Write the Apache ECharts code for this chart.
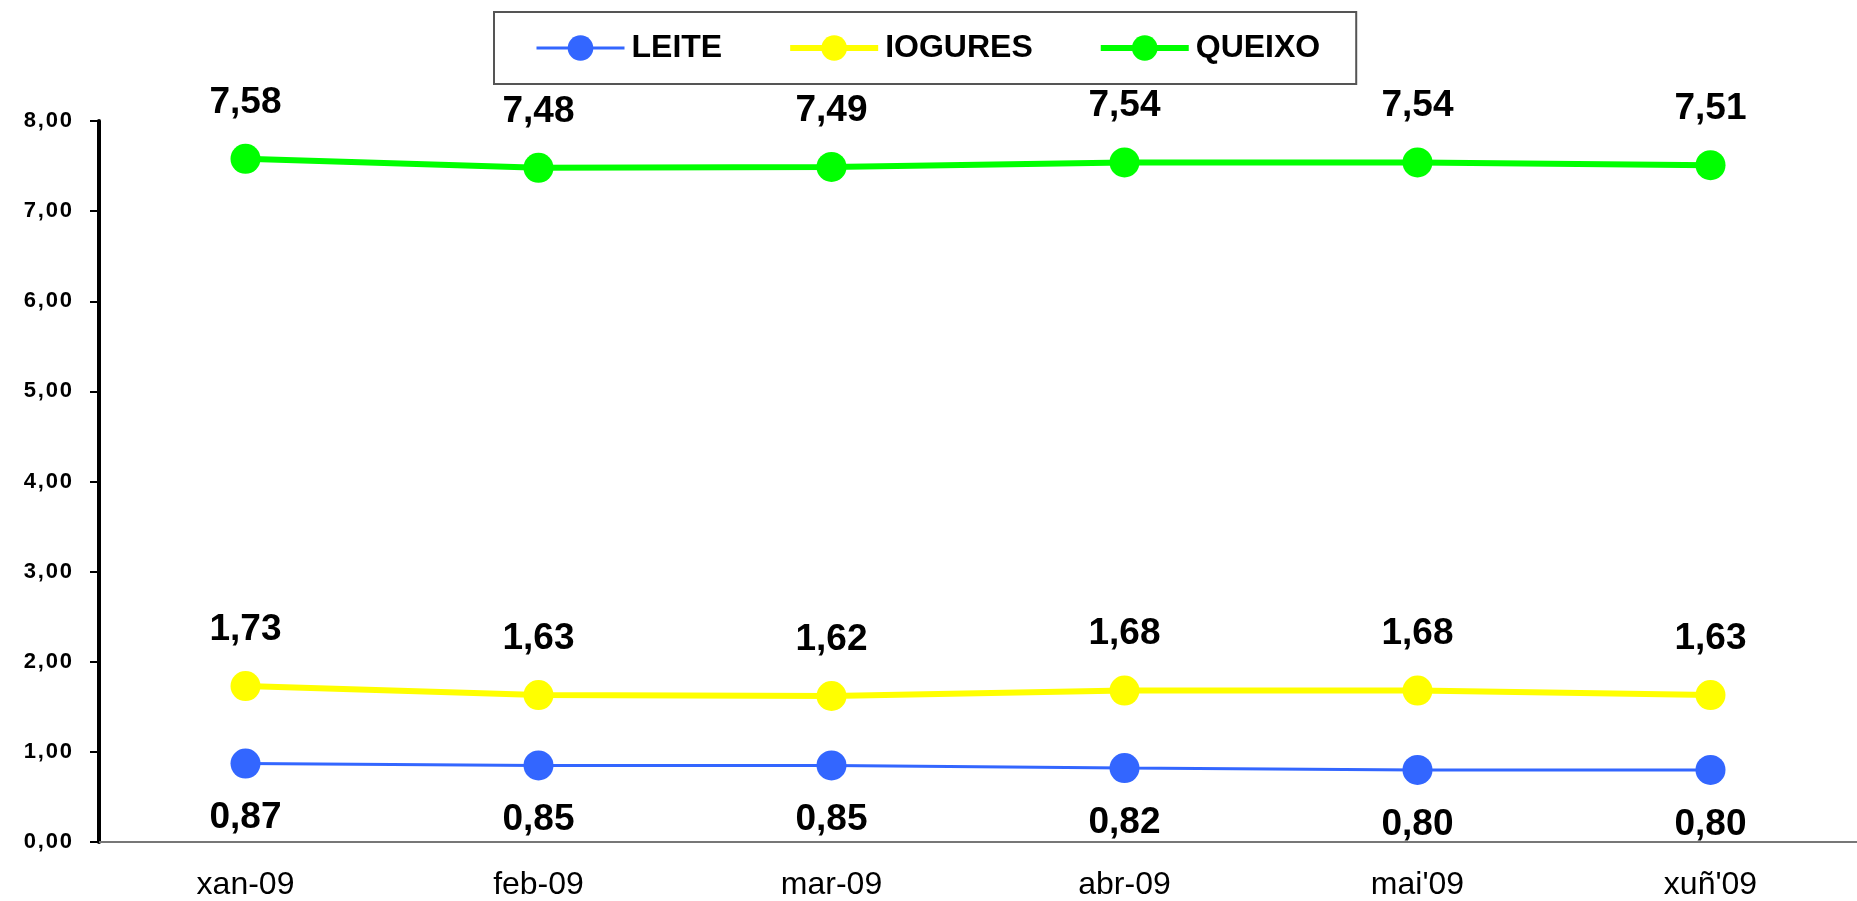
<!DOCTYPE html>
<html>
<head>
<meta charset="utf-8">
<script src="https://cdn.jsdelivr.net/npm/echarts@6/dist/echarts.min.js"></script>
<style>
  html, body { margin: 0; padding: 0; background: #fff; }
  #main { width: 1857px; height: 901px; }
</style>
</head>
<body>
<div id="main"></div>
<script>
var months = ['xan-09', 'feb-09', 'mar-09', 'abr-09', "mai'09", "xuñ'09"]
var leite = [0.87, 0.85, 0.85, 0.82, 0.80, 0.80]
var iogures = [1.73, 1.63, 1.62, 1.68, 1.68, 1.63]
var queixo = [7.58, 7.48, 7.49, 7.54, 7.54, 7.51]

var myChart = echarts.init(document.querySelector('#main'))

function comma (v) {
  return v.toFixed(2).replace('.', ',')
}

function makeSeries (name, data, color, width, pos, dist) {
  return {
    name: name,
    type: 'line',
    data: data,
    symbol: 'circle',
    symbolSize: 30,
    lineStyle: { color: color, width: width },
    itemStyle: { color: color },
    label: {
      show: true,
      position: pos,
      distance: dist,
      color: '#000',
      fontFamily: 'Liberation Sans, Arial, sans-serif',
      fontWeight: 'bold',
      fontSize: 37,
      formatter: function (p) { return comma(p.value) }
    }
  }
}

var option = {
  animation: false,
  legend: {
    left: 494,
    top: 12,
    padding: [20, 36, 20, 41],
    borderColor: '#555',
    borderWidth: 2,
    itemWidth: 88,
    itemHeight: 32,
    itemGap: 65,
    textStyle: {
      fontFamily: 'Liberation Sans, Arial, sans-serif',
      fontWeight: 'bold',
      fontSize: 32,
      color: '#000',
      padding: [0, 0, 0, 2]
    },
    data: [
      { name: 'LEITE', lineStyle: { width: 3 } },
      { name: 'IOGURES', lineStyle: { width: 6 } },
      { name: 'QUEIXO', lineStyle: { width: 6 } }
    ]
  },
  grid: { left: 99, right: -16, top: 121, bottom: 59 },
  xAxis: {
    type: 'category',
    data: months,
    axisLine: { lineStyle: { color: '#777', width: 2 } },
    axisTick: { lineStyle: { color: '#777', width: 2 }, length: 11 },
    axisLabel: {
      margin: 27,
      color: '#000',
      fontFamily: 'Liberation Sans, Arial, sans-serif',
      fontSize: 32
    }
  },
  yAxis: {
    type: 'value',
    min: 0,
    max: 8,
    interval: 1,
    splitLine: { show: false },
    axisLine: { show: true, lineStyle: { color: '#000', width: 4 } },
    axisTick: { show: true, length: 9, lineStyle: { color: '#000', width: 2 } },
    axisLabel: {
      margin: 27,
      color: '#000',
      fontFamily: 'Liberation Sans, Arial, sans-serif',
      fontWeight: 'bold',
      fontSize: 22,
      formatter: function (v) { return comma(v).split('').join('\u200a') }
    }
  },
  series: [
    makeSeries('LEITE', leite, '#3366ff', 3, 'bottom', 21),
    makeSeries('IOGURES', iogures, '#ffff00', 6, 'top', 23),
    makeSeries('QUEIXO', queixo, '#00ff00', 6, 'top', 23)
  ]
}

myChart.setOption(option)
</script>
</body>
</html>
